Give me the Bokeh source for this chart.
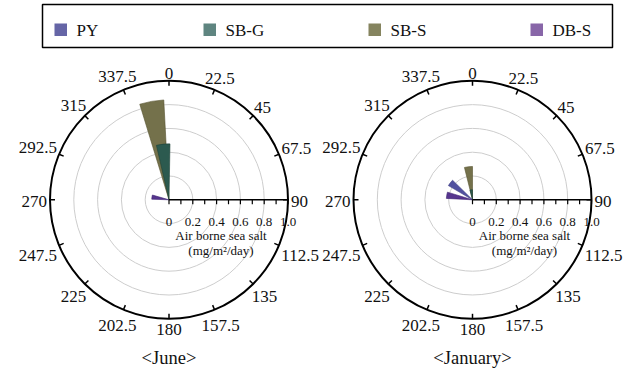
import math

from bokeh.plotting import figure
from bokeh.models import Range1d
from bokeh.core.properties import value
from bokeh.embed import file_html
from bokeh.resources import INLINE

# ---- data -----------------------------------------------------------------
series = ["PY", "SB-G", "SB-S", "DB-S"]
legend_colors = ["#6565a6", "#5f8580", "#85845f", "#8866a8"]
wedge_colors = ["#51519f", "#2c5a4f", "#74714b", "#56358e"]
wedge_edges = ["#3a3a80", "#1f4238", "#55532f", "#3c2170"]

# air borne sea salt (mg/m2/day) and its bearing (deg, clockwise from north)
june_salt = [0.0, 0.47, 0.84, 0.145]
june_dir = [307.5, 354.0, 350.0, 279.0]
jan_salt = [0.235, 0.085, 0.28, 0.22]
jan_dir = [307.5, 352.5, 353.0, 280.0]

months = ["<June>", "<January>"]

compass_ticks = [0, 22.5, 45, 67.5, 90, 112.5, 135, 157.5,
                 180, 202.5, 225, 247.5, 270, 292.5, 315, 337.5]
compass_labels = ["0", "22.5", "45", "67.5", "90", "112.5", "135", "157.5",
                  "180", "202.5", "225", "247.5", "270", "292.5", "315", "337.5"]
radial_ticks = [0.0, 0.2, 0.4, 0.6, 0.8, 1.0]
radial_labels = ["0", "0.2", "0.4", "0.6", "0.8", "1.0"]
radial_minor = [0.1, 0.3, 0.5, 0.7, 0.9]
grid_rings = [0.2, 0.4, 0.6, 0.8]

# ---- layout ---------------------------------------------------------------
W, H = 631, 370
PX = 119.0                 # pixels per unit of radius
OX, OY = 168.5, 199.3      # pixel position of the first pole
CENTERS = [0.0, 303.5 / PX]
SECTOR = 14.0              # angular width of a bar (deg)
FONT = value("'Liberation Serif', 'Times New Roman', Times, serif")


def at(px_x, px_y):
    """Canvas pixel position -> plot units."""
    return (px_x - OX) / PX, (OY - px_y) / PX


p = figure(width=W, height=H, output_backend="svg", toolbar_location=None,
           x_range=Range1d(-OX / PX, (W - OX) / PX),
           y_range=Range1d(-(H - OY) / PX, OY / PX),
           x_axis_location=None, y_axis_location=None,
           min_border=0, outline_line_color=None)
p.grid.visible = False
p.background_fill_color = "white"
p.border_fill_color = "white"


def char_w(s, size):
    w = 0.0
    for ch in s:
        w += 0.25 if ch == "." else 0.5
    return w * size


for cx, salt, bearing, caption in zip(CENTERS, [june_salt, jan_salt],
                                      [june_dir, jan_dir], months):
    # concentric grid rings
    p.circle(x=[cx] * len(grid_rings), y=[0] * len(grid_rings), radius=grid_rings,
             fill_color=None, line_color="#cdcdcd", line_width=1)

    # bars, drawn SB-S first so SB-G sits on top
    for i in [2, 1, 0, 3]:
        if salt[i] <= 0:
            continue
        d = bearing[i]
        p.wedge(x=[cx], y=[0], radius=[salt[i]],
                start_angle=[math.radians(90 - d - SECTOR / 2)],
                end_angle=[math.radians(90 - d + SECTOR / 2)],
                direction="anticlock",
                fill_color=wedge_colors[i], line_color=wedge_edges[i],
                line_width=0.6)

    # outer ring
    p.circle(x=[cx], y=[0], radius=[1.0], fill_color=None,
             line_color="black", line_width=2)

    # compass ticks (inward) and labels
    tl = 5.0 / PX
    x0, y0, x1, y1 = [], [], [], []
    lx, ly = [], []
    for ang, lab in zip(compass_ticks, compass_labels):
        s, c = math.sin(math.radians(ang)), math.cos(math.radians(ang))
        x0.append(cx + s)
        y0.append(c)
        x1.append(cx + s * (1 - tl))
        y1.append(c * (1 - tl))
        w = char_w(lab, 17)
        e = abs(s) * w / 2 + abs(c) * 5.8
        r = 1 + (3.0 + e) / PX
        lx.append(cx + s * r)
        ly.append(c * r - 1.5 / PX)
    p.segment(x0=x0, y0=y0, x1=x1, y1=y1, line_color="black", line_width=1.5)
    p.text(x=lx, y=ly, text=compass_labels, text_font=FONT,
           text_font_size="17px", text_align="center", text_baseline="middle",
           text_color="#111111")

    # radial axis along the east bearing
    p.segment(x0=[cx], y0=[0], x1=[cx + 1.0], y1=[0], line_color="black",
              line_width=1.5)
    ticks = radial_ticks + radial_minor
    p.segment(x0=[cx + t for t in ticks], y0=[0] * len(ticks),
              x1=[cx + t for t in ticks], y1=[-4.5 / PX] * len(ticks),
              line_color="black", line_width=1.2)
    p.text(x=[cx + t for t in radial_ticks], y=[-22.4 / PX] * len(radial_ticks),
           text=radial_labels, text_font=FONT, text_font_size="13px",
           text_align="center", text_baseline="middle", text_color="#111111")
    p.text(x=[cx + 52.0 / PX, cx + 52.0 / PX], y=[-35.7 / PX, -50.7 / PX],
           text=["Air borne sea salt", "(mg/m\u00b2/day)"], text_font=FONT,
           text_font_size="13px", text_align="center", text_baseline="middle",
           text_color="#111111")

    # month caption
    cap_x, cap_y = at(OX + cx * PX, 357)
    p.text(x=[cap_x], y=[cap_y], text=[caption], text_font=FONT,
           text_font_size="18.5px", text_align="center", text_baseline="middle",
           text_color="#111111")

# ---- legend ---------------------------------------------------------------
bx0, by0 = at(42, 4)
bx1, by1 = at(612, 47)
p.quad(left=[bx0], right=[bx1], top=[by0], bottom=[by1], fill_color=None,
       line_color="black", line_width=1.5)
key_px = [54, 203, 368, 530]
for i, name in enumerate(series):
    kx0, ky0 = at(key_px[i], 23)
    kx1, ky1 = at(key_px[i] + 12.5, 35.5)
    p.quad(left=[kx0], right=[kx1], top=[ky0], bottom=[ky1],
           fill_color=legend_colors[i], line_color=None)
    tx, ty = at(key_px[i] + 22, 29.5)
    p.text(x=[tx], y=[ty], text=[name], text_font=FONT, text_font_size="17px",
           text_align="left", text_baseline="middle", text_color="#111111")

open("out.html", "w").write(file_html(p, INLINE))
